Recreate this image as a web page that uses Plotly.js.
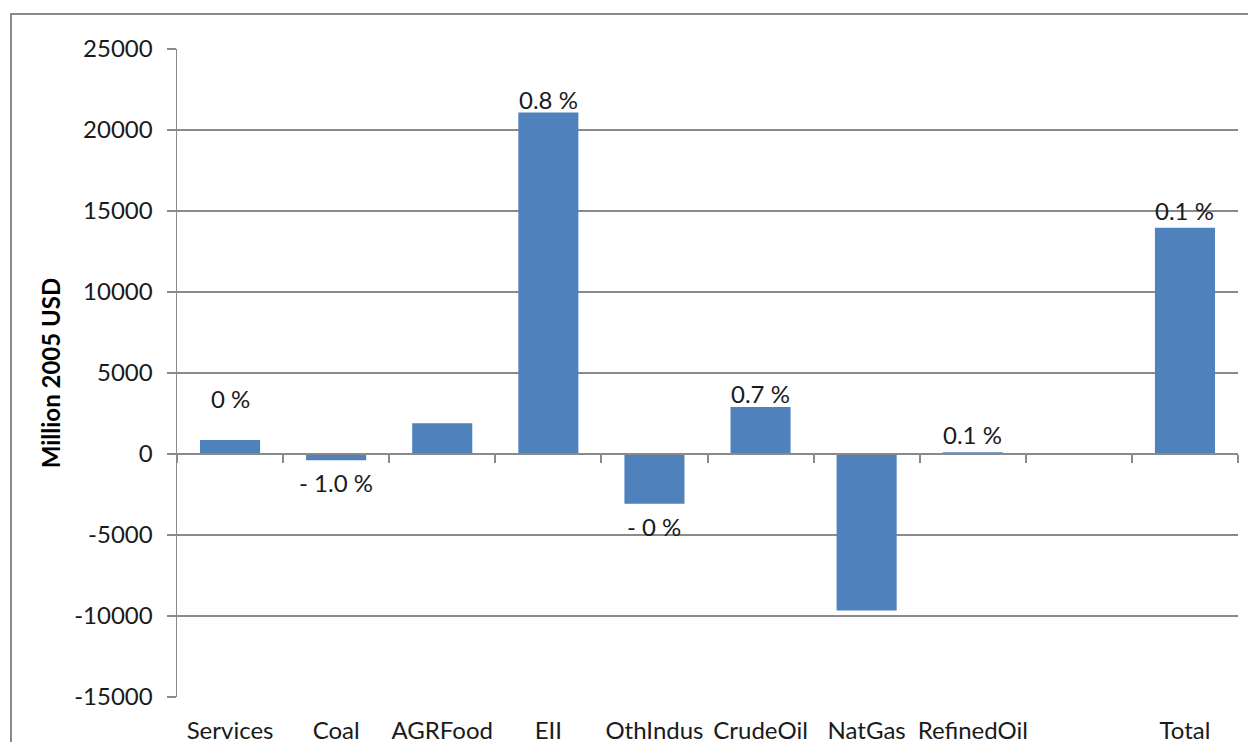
<!DOCTYPE html>
<html>
<head>
<meta charset="utf-8">
<script src="https://cdn.plot.ly/plotly-3.0.1.min.js"></script>
<style>
  html, body { margin: 0; padding: 0; background: #fff; overflow: hidden; }
  #chart { position: absolute; left: 0; top: 0; width: 1248px; height: 742px; }
  #frame { position: absolute; left: 10px; top: 13px; width: 1400px; height: 900px;
           border: 2px solid #8a8a8a; pointer-events: none; box-sizing: border-box; }
</style>
</head>
<body>
<div id="chart"></div>
<div id="frame"></div>
<script>
const categories = ["Services", "Coal", "AGRFood", "EII", "OthIndus", "CrudeOil", "NatGas", "RefinedOil", " ", "Total"];
const values = [870, -390, 1900, 21080, -3070, 2900, -9660, 110, null, 13970];
const pctLabels = ["0 %", "- 1.0 %", "", "0.8 %", "- 0 %", "0.7 %", "", "0.1 %", "", "0.1 %"];
const yTickVals = [-15000, -10000, -5000, 0, 5000, 10000, 15000, 20000, 25000];

// label offsets in pixels (layout styling, not data)
const labelShift = [28, 9, 0, 0, 9, 0, 0, 4, 0, 4];

const FONT = "Lato, 'Open Sans', sans-serif";

const trace = {
  type: "bar",
  x: categories,
  y: values,
  marker: { color: "#4F81BD" },
  hoverinfo: "x+y"
};

const annotations = [];
categories.forEach((c, i) => {
  if (!pctLabels[i] || values[i] === null) return;
  const neg = values[i] < 0;
  annotations.push({
    x: c, y: values[i], xref: "x", yref: "y",
    text: pctLabels[i], showarrow: false,
    yanchor: neg ? "top" : "bottom",
    yshift: (neg ? -1 : 1) * (-3 + labelShift[i]),
    font: { family: FONT, size: 24, color: "#1a1a1a" }
  });
});

const layout = {
  width: 1248, height: 742,
  margin: { l: 177, r: 10, t: 49, b: 45 },
  paper_bgcolor: "rgba(0,0,0,0)",
  plot_bgcolor: "#fff",
  showlegend: false,
  bargap: 0.434,
  font: { family: FONT, color: "#1a1a1a" },
  xaxis: {
    type: "category",
    categoryorder: "array", categoryarray: categories,
    range: [-0.5, 9.5],
    showgrid: false, zeroline: false, showline: false,
    ticks: "", ticklabelstandoff: 17,
    tickfont: { family: FONT, size: 24, color: "#1a1a1a" },
    fixedrange: true
  },
  xaxis2: {
    overlaying: "x", anchor: "free", position: (0 - (-15000)) / (25000 - (-15000)),
    type: "linear", range: [-0.5, 9.5],
    tick0: -0.5, dtick: 1, ticks: "outside", ticklen: 8, tickcolor: "#8a8a8a", tickwidth: 2,
    showticklabels: false, showgrid: false, zeroline: false,
    showline: true, linecolor: "#8a8a8a", linewidth: 2,
    fixedrange: true
  },
  yaxis: {
    range: [-15000, 25000],
    tickvals: yTickVals,
    ticktext: yTickVals.map(v => String(v)),
    showgrid: true, gridcolor: "#8a8a8a", gridwidth: 1.5,
    zeroline: false,
    showline: true, linecolor: "#8a8a8a", linewidth: 1.5,
    ticks: "outside", ticklen: 9, tickcolor: "#8a8a8a", tickwidth: 1.5,
    ticklabelstandoff: 9,
    tickfont: { family: FONT, size: 24, color: "#1a1a1a" },
    title: { text: "<b>Million 2005 USD</b>", standoff: 7,
             font: { family: FONT, size: 24, color: "#000" } },
    fixedrange: true
  },
  annotations: annotations
};

// invisible helper trace so the zero-line axis (xaxis2) renders
const axisTrace = {
  type: "scatter", x: [-0.5, 9.5], y: [0, 0], xaxis: "x2", yaxis: "y",
  mode: "lines", line: { width: 0 }, hoverinfo: "skip", showlegend: false
};

Plotly.newPlot("chart", [trace, axisTrace], layout, { displayModeBar: false, staticPlot: true });
</script>
</body>
</html>
